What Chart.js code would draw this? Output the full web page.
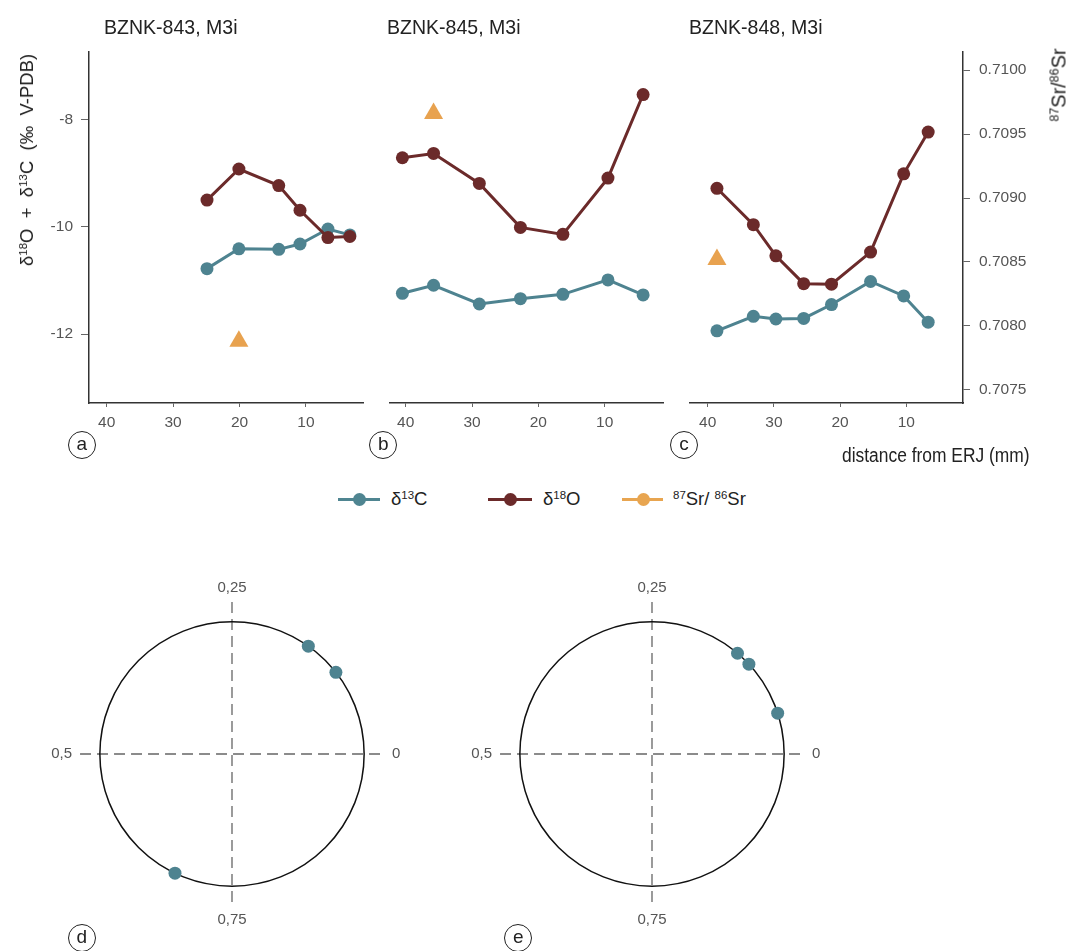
<!DOCTYPE html>
<html><head><meta charset="utf-8">
<script src="https://cdn.jsdelivr.net/npm/chart.js@4/dist/chart.umd.min.js"></script>
<style>
body{margin:0;background:#fff;}
#wrap{position:relative;width:1072px;height:951px;overflow:hidden;font-family:"Liberation Sans",Arial,sans-serif;color:#222;}
canvas{position:absolute;}
.t{position:absolute;white-space:nowrap;}
.title{font-size:21px;line-height:21px;transform:scaleX(0.93);transform-origin:0 0;}
.lab{position:absolute;width:26px;height:26px;border:1.3px solid #222;border-radius:50%;font-size:19px;line-height:24px;text-align:center;}
.rot{position:absolute;white-space:nowrap;transform:translate(-50%,-50%) rotate(-90deg);}
sup{font-size:0.62em;vertical-align:0;position:relative;top:-0.55em;}
.lg{position:absolute;height:3px;}
.dot{position:absolute;width:13px;height:13px;border-radius:50%;}
.lt{position:absolute;font-size:18.5px;line-height:20px;}
</style></head>
<body><div id="wrap">
<canvas id="ca" width="380" height="440" style="left:0;top:0"></canvas>
<canvas id="cb" width="380" height="440" style="left:300px;top:0"></canvas>
<canvas id="cc" width="472" height="440" style="left:600px;top:0"></canvas>
<canvas id="cd" width="370" height="370" style="left:47px;top:569px"></canvas>
<canvas id="ce" width="370" height="370" style="left:467px;top:569px"></canvas>

<div class="t title" id="t0" style="left:104px;top:15.5px"></div>
<div class="t title" id="t1" style="left:387px;top:15.5px"></div>
<div class="t title" id="t2" style="left:689px;top:15.5px"></div>

<div class="rot" style="left:27px;top:160px;font-size:18.5px">δ<sup>18</sup>O&nbsp; +&nbsp; δ<sup>13</sup>C&nbsp; (‰&nbsp; V-PDB)</div>
<div class="rot" style="left:1059px;top:85px;font-size:20px"><sup>87</sup>Sr/<sup>86</sup>Sr</div>
<div class="t" style="left:842px;top:444px;font-size:20px;line-height:22px;transform:scaleX(0.87);transform-origin:0 0">distance from ERJ (mm)</div>

<div class="lab" style="left:67.7px;top:431px">a</div>
<div class="lab" style="left:369.3px;top:431px">b</div>
<div class="lab" style="left:670px;top:431px">c</div>
<div class="lab" style="left:67.7px;top:924.3px">d</div>
<div class="lab" style="left:504.3px;top:924.3px">e</div>

<div class="lg" style="left:338px;top:498px;width:42px;background:#4f8591"></div>
<div class="dot" style="left:352.5px;top:493px;background:#4f8591"></div>
<div class="lt" style="left:391px;top:489px">δ<sup>13</sup>C</div>
<div class="lg" style="left:488px;top:498px;width:44px;background:#6b2a2a"></div>
<div class="dot" style="left:503.5px;top:493px;background:#6b2a2a"></div>
<div class="lt" style="left:543px;top:489px">δ<sup>18</sup>O</div>
<div class="lg" style="left:622px;top:498px;width:41px;background:#e8a550"></div>
<div class="dot" style="left:636.5px;top:493px;background:#e8a550"></div>
<div class="lt" style="left:673px;top:489px"><sup>87</sup>Sr/ <sup>86</sup>Sr</div>
</div>
<script>
// ---- data ----
const panelTitles = ['BZNK-843, M3i', 'BZNK-845, M3i', 'BZNK-848, M3i'];
const xTickLabels = [40, 30, 20, 10];
const yLeftTicks = [-8, -10, -12];
const yRightTicks = [0.7075, 0.7080, 0.7085, 0.7090, 0.7095, 0.7100];

const dist843 = [24.9, 20.1, 14.1, 10.9, 6.7, 3.4];
const d18O_843 = [-9.50, -8.92, -9.23, -9.69, -10.20, -10.18];
const d13C_843 = [-10.78, -10.41, -10.42, -10.32, -10.04, -10.15];
const srDist843 = [20.1];
const sr843 = [0.70788];

const dist845 = [40.5, 35.8, 28.9, 22.7, 16.3, 9.5, 4.2];
const d18O_845 = [-8.71, -8.63, -9.19, -10.01, -10.14, -9.09, -7.53];
const d13C_845 = [-11.24, -11.09, -11.44, -11.34, -11.26, -10.99, -11.27];
const srDist845 = [35.8];
const sr845 = [0.70966];

const dist848 = [38.6, 33.1, 29.7, 25.5, 21.3, 15.4, 10.4, 6.7];
const d18O_848 = [-9.28, -9.96, -10.54, -11.06, -11.07, -10.47, -9.01, -8.23];
const d13C_848 = [-11.94, -11.67, -11.72, -11.71, -11.45, -11.02, -11.29, -11.78];
const srDist848 = [38.6];
const sr848 = [0.70852];

const phaseTickLabels = ['0', '0,25', '0,5', '0,75'];
const phaseD = [0.152, 0.106, 0.679];
const phaseE = [0.138, 0.119, 0.050];

// ---- style ----
const TEAL = '#4e8390', BROWN = '#6b2a2a', ORANGE = '#e8a24f';
const FONT = '"Liberation Sans", Arial, sans-serif';
panelTitles.forEach((t, i) => document.getElementById('t' + i).textContent = t);

const pts = (xs, ys) => xs.map((x, i) => ({x: x, y: ys[i]}));

function lineChart(id, xs, o18, c13, srx, sr, cfg) {
  const tickFont = {family: FONT, size: 15.5};
  return new Chart(document.getElementById(id), {
    type: 'line',
    data: {datasets: [
      {label: '87Sr/86Sr', data: pts(srx, sr), yAxisID: 'y2', showLine: false,
       pointStyle: 'triangle', pointRadius: 11, pointHoverRadius: 11,
       backgroundColor: ORANGE, borderColor: ORANGE, borderWidth: 0},
      {label: 'δ18O', data: pts(xs, o18), yAxisID: 'y', borderColor: BROWN, backgroundColor: BROWN,
       borderWidth: 3, pointRadius: 6.5, pointHoverRadius: 6.5, pointBorderWidth: 0, tension: 0},
      {label: 'δ13C', data: pts(xs, c13), yAxisID: 'y', borderColor: TEAL, backgroundColor: TEAL,
       borderWidth: 3, pointRadius: 6.5, pointHoverRadius: 6.5, pointBorderWidth: 0, tension: 0}
    ]},
    options: {
      responsive: false, animation: false, devicePixelRatio: 1,
      layout: {autoPadding: false, padding: {top: 52, left: cfg.padL, right: cfg.padR, bottom: 0}},
      plugins: {legend: {display: false}, tooltip: {enabled: false}},
      scales: {
        x: {type: 'linear', reverse: true, min: cfg.xmin, max: cfg.xmax,
            afterBuildTicks: s => { s.ticks = xTickLabels.map(v => ({value: v})); },
            afterFit: s => { s.height = 37; },
            border: {display: true, color: '#333', width: 1.5},
            grid: {display: true, drawOnChartArea: false, drawTicks: true, tickLength: 4, color: '#666'},
            ticks: {font: tickFont, color: '#555', padding: 6, maxRotation: 0}},
        y: {type: 'linear', position: 'left', min: -13.288, max: -6.736, display: cfg.showY,
            afterBuildTicks: s => { s.ticks = yLeftTicks.map(v => ({value: v})); },
            afterFit: s => { s.width = cfg.showY ? 89 : 0; },
            border: {display: true, color: '#333', width: 1.5},
            grid: {display: true, drawOnChartArea: false, drawTicks: true, tickLength: 8, color: '#666'},
            ticks: {font: tickFont, color: '#555', padding: 8}},
        y2: {type: 'linear', position: 'right', min: 0.707398, max: 0.710141, display: cfg.showY2,
            afterBuildTicks: s => { s.ticks = yRightTicks.map(v => ({value: v})); },
            afterFit: s => { s.width = cfg.showY2 ? 109 : 0; },
            border: {display: true, color: '#333', width: 1.5},
            grid: {display: true, drawOnChartArea: false, drawTicks: true, tickLength: 7, color: '#666'},
            ticks: {font: tickFont, color: '#555', padding: 9, callback: v => v.toFixed(4)}}
      }
    }
  });
}

lineChart('ca', dist843, d18O_843, d13C_843, srDist843, sr843,
  {padL: 0, padR: 17, xmin: 1.42, xmax: 42.66, showY: true, showY2: false});
lineChart('cb', dist845, d18O_845, d13C_845, srDist845, sr845,
  {padL: 90, padR: 17, xmin: 1.2, xmax: 42.37, showY: false, showY2: false});
lineChart('cc', dist848, d18O_848, d13C_848, srDist848, sr848,
  {padL: 90, padR: 0, xmin: 1.44, xmax: 42.67, showY: false, showY2: true});

// ---- phase (circular) plots ----
const polarPlugin = {
  id: 'polarFrame',
  beforeDatasetsDraw(chart) {
    const {ctx, scales: {x, y}} = chart;
    const cx = x.getPixelForValue(0), cy = y.getPixelForValue(0);
    const r = x.getPixelForValue(1) - cx;
    ctx.save();
    ctx.strokeStyle = '#666'; ctx.lineWidth = 1.3; ctx.setLineDash([11, 6]);
    ctx.beginPath();
    ctx.moveTo(x.getPixelForValue(-1.15), cy); ctx.lineTo(x.getPixelForValue(1.15), cy);
    ctx.moveTo(cx, y.getPixelForValue(1.15)); ctx.lineTo(cx, y.getPixelForValue(-1.15));
    ctx.stroke();
    ctx.setLineDash([]);
    ctx.strokeStyle = '#111'; ctx.lineWidth = 1.5;
    ctx.beginPath(); ctx.arc(cx, cy, r, 0, Math.PI * 2); ctx.stroke();
    ctx.fillStyle = '#555'; ctx.font = '15px ' + FONT;
    const g = 1.21 * r;
    ctx.textBaseline = 'middle';
    ctx.textAlign = 'left'; ctx.fillText(phaseTickLabels[0], cx + g, cy);
    ctx.textAlign = 'right'; ctx.fillText(phaseTickLabels[2], cx - g, cy);
    ctx.textAlign = 'center'; ctx.textBaseline = 'alphabetic';
    ctx.fillText(phaseTickLabels[1], cx, cy - 1.225 * r);
    ctx.fillText(phaseTickLabels[3], cx, cy + 1.29 * r);
    ctx.restore();
  }
};
function polarChart(id, phases) {
  return new Chart(document.getElementById(id), {
    type: 'scatter',
    data: {datasets: [{data: phases.map(f => ({x: Math.cos(2 * Math.PI * f), y: Math.sin(2 * Math.PI * f)})),
      backgroundColor: TEAL, borderColor: TEAL, pointRadius: 6.5, pointHoverRadius: 6.5, borderWidth: 0}]},
    options: {responsive: false, animation: false, devicePixelRatio: 1, layout: {autoPadding: false, padding: 0},
      plugins: {legend: {display: false}, tooltip: {enabled: false}},
      scales: {x: {type: 'linear', min: -1.4, max: 1.4, display: false},
               y: {type: 'linear', min: -1.4, max: 1.4, display: false}}},
    plugins: [polarPlugin]
  });
}
polarChart('cd', phaseD);
polarChart('ce', phaseE);
</script>
</body></html>
